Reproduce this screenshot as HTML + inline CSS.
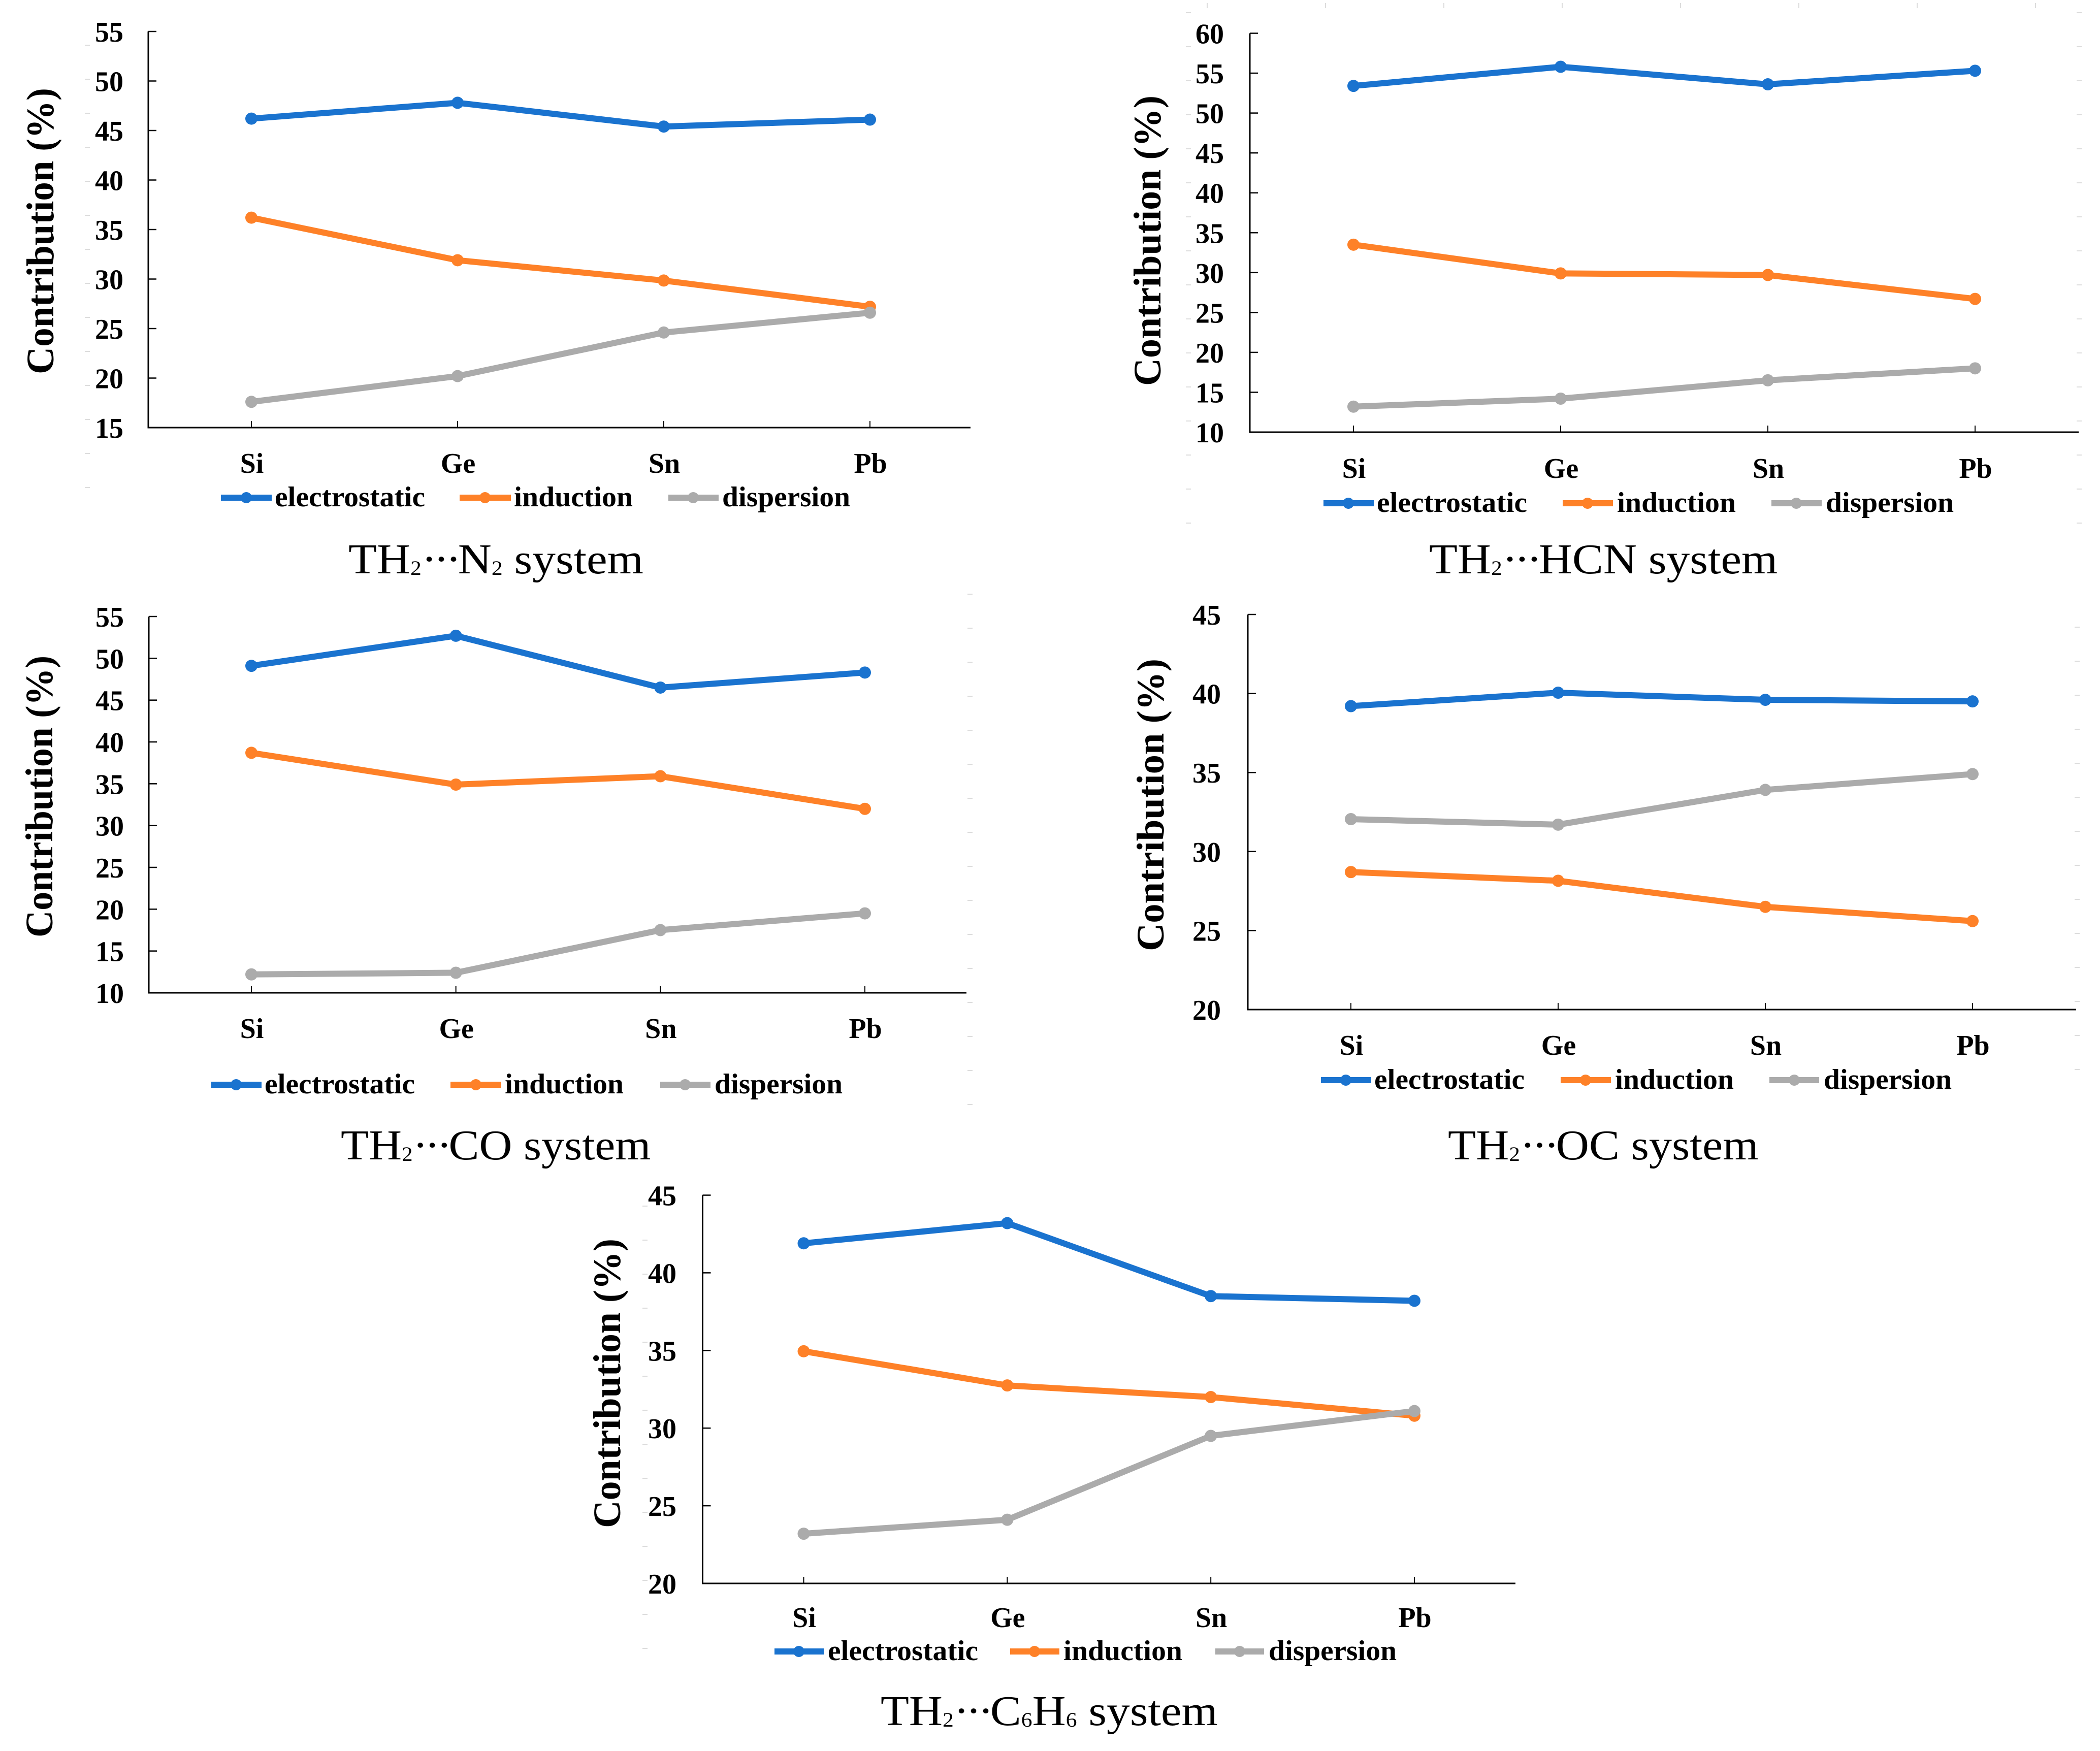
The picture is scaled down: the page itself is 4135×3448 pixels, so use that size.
<!DOCTYPE html>
<html lang="en">
<head>
<meta charset="utf-8">
<title>TH2 complexes energy contribution charts</title>
<style>
html,body{margin:0;padding:0;background:#fff;}
svg{display:block;}
text{font-family:"Liberation Serif",serif;fill:#000;}
.tick,.cat,.leg{font-weight:bold;font-size:56px;}
.ytitle{font-weight:bold;font-size:76px;}
.title{font-size:84px;}
.sub{font-size:40px;}
.dots{letter-spacing:-6px;}
</style>
</head>
<body>
<svg id="figure" width="4135" height="3448" viewBox="0 0 4135 3448" xmlns="http://www.w3.org/2000/svg">
<rect width="4135" height="3448" fill="#fff"/>

<g id="chart-n2">
  <text class="ytitle" transform="translate(105,737) rotate(-90)" textLength="564" lengthAdjust="spacingAndGlyphs">Contribution (%)</text>
  <g>
    <g><line x1="435" x2="535" y1="980" y2="980" stroke="#1a73cf" stroke-width="12"/><circle cx="485" cy="980" r="11" fill="#1a73cf"/><text class="leg" x="541" y="997" textLength="296" lengthAdjust="spacingAndGlyphs">electrostatic</text></g>
    <g><line x1="905" x2="1006" y1="980" y2="980" stroke="#fe8128" stroke-width="12"/><circle cx="955" cy="980" r="11" fill="#fe8128"/><text class="leg" x="1012" y="997" textLength="234" lengthAdjust="spacingAndGlyphs">induction</text></g>
    <g><line x1="1316" x2="1415" y1="980" y2="980" stroke="#ababab" stroke-width="12"/><circle cx="1365" cy="980" r="11" fill="#ababab"/><text class="leg" x="1422" y="997" textLength="252" lengthAdjust="spacingAndGlyphs">dispersion</text></g>
  </g>
  <text class="title" transform="translate(686,1129) scale(1.09,1)">TH<tspan class="sub" dy="3">2</tspan><tspan class="dots" dy="-3">···</tspan><tspan>N</tspan><tspan class="sub" dy="3">2</tspan><tspan dy="-3"> system</tspan></text>
</g>

<g id="chart-hcn">
  <text class="ytitle" transform="translate(2285,760) rotate(-90)" textLength="572" lengthAdjust="spacingAndGlyphs">Contribution (%)</text>
  <g>
    <g><line x1="2606" x2="2705" y1="991" y2="991" stroke="#1a73cf" stroke-width="12"/><circle cx="2655" cy="991" r="11" fill="#1a73cf"/><text class="leg" x="2711" y="1008" textLength="296" lengthAdjust="spacingAndGlyphs">electrostatic</text></g>
    <g><line x1="3077" x2="3176" y1="991" y2="991" stroke="#fe8128" stroke-width="12"/><circle cx="3126" cy="991" r="11" fill="#fe8128"/><text class="leg" x="3184" y="1008" textLength="234" lengthAdjust="spacingAndGlyphs">induction</text></g>
    <g><line x1="3488" x2="3587" y1="991" y2="991" stroke="#ababab" stroke-width="12"/><circle cx="3537" cy="991" r="11" fill="#ababab"/><text class="leg" x="3595" y="1008" textLength="252" lengthAdjust="spacingAndGlyphs">dispersion</text></g>
  </g>
  <text class="title" transform="translate(2814,1129) scale(1.09,1)">TH<tspan class="sub" dy="3">2</tspan><tspan class="dots" dy="-3">···</tspan><tspan>HCN system</tspan></text>
</g>

<g id="chart-co">
  <text class="ytitle" transform="translate(103,1846) rotate(-90)" textLength="555" lengthAdjust="spacingAndGlyphs">Contribution (%)</text>
  <g>
    <g><line x1="416" x2="515" y1="2136" y2="2136" stroke="#1a73cf" stroke-width="12"/><circle cx="465" cy="2136" r="11" fill="#1a73cf"/><text class="leg" x="521" y="2153" textLength="296" lengthAdjust="spacingAndGlyphs">electrostatic</text></g>
    <g><line x1="887" x2="987" y1="2136" y2="2136" stroke="#fe8128" stroke-width="12"/><circle cx="937" cy="2136" r="11" fill="#fe8128"/><text class="leg" x="994" y="2153" textLength="234" lengthAdjust="spacingAndGlyphs">induction</text></g>
    <g><line x1="1300" x2="1399" y1="2136" y2="2136" stroke="#ababab" stroke-width="12"/><circle cx="1349" cy="2136" r="11" fill="#ababab"/><text class="leg" x="1407" y="2153" textLength="252" lengthAdjust="spacingAndGlyphs">dispersion</text></g>
  </g>
  <text class="title" transform="translate(671,2283) scale(1.073,1)">TH<tspan class="sub" dy="3">2</tspan><tspan class="dots" dy="-3">···</tspan><tspan>CO system</tspan></text>
</g>

<g id="chart-oc">
  <text class="ytitle" transform="translate(2291,1873) rotate(-90)" textLength="576" lengthAdjust="spacingAndGlyphs">Contribution (%)</text>
  <g>
    <g><line x1="2601" x2="2700" y1="2127" y2="2127" stroke="#1a73cf" stroke-width="12"/><circle cx="2650" cy="2127" r="11" fill="#1a73cf"/><text class="leg" x="2706" y="2144" textLength="296" lengthAdjust="spacingAndGlyphs">electrostatic</text></g>
    <g><line x1="3073" x2="3172" y1="2127" y2="2127" stroke="#fe8128" stroke-width="12"/><circle cx="3122" cy="2127" r="11" fill="#fe8128"/><text class="leg" x="3180" y="2144" textLength="234" lengthAdjust="spacingAndGlyphs">induction</text></g>
    <g><line x1="3484" x2="3582" y1="2127" y2="2127" stroke="#ababab" stroke-width="12"/><circle cx="3533" cy="2127" r="11" fill="#ababab"/><text class="leg" x="3591" y="2144" textLength="252" lengthAdjust="spacingAndGlyphs">dispersion</text></g>
  </g>
  <text class="title" transform="translate(2851,2283) scale(1.075,1)">TH<tspan class="sub" dy="3">2</tspan><tspan class="dots" dy="-3">···</tspan><tspan>OC system</tspan></text>
</g>

<g id="chart-c6h6">
  <text class="ytitle" transform="translate(1221,3009) rotate(-90)" textLength="570" lengthAdjust="spacingAndGlyphs">Contribution (%)</text>
  <g>
    <g><line x1="1525" x2="1622" y1="3252" y2="3252" stroke="#1a73cf" stroke-width="12"/><circle cx="1573" cy="3252" r="11" fill="#1a73cf"/><text class="leg" x="1630" y="3269" textLength="296" lengthAdjust="spacingAndGlyphs">electrostatic</text></g>
    <g><line x1="1989" x2="2086" y1="3252" y2="3252" stroke="#fe8128" stroke-width="12"/><circle cx="2037" cy="3252" r="11" fill="#fe8128"/><text class="leg" x="2094" y="3269" textLength="234" lengthAdjust="spacingAndGlyphs">induction</text></g>
    <g><line x1="2393" x2="2489" y1="3252" y2="3252" stroke="#ababab" stroke-width="12"/><circle cx="2441" cy="3252" r="11" fill="#ababab"/><text class="leg" x="2498" y="3269" textLength="252" lengthAdjust="spacingAndGlyphs">dispersion</text></g>
  </g>
  <text class="title" transform="translate(1734,3397) scale(1.09,1)">TH<tspan class="sub" dy="3">2</tspan><tspan class="dots" dy="-3">···</tspan><tspan>C</tspan><tspan class="sub" dy="3">6</tspan><tspan dy="-3">H</tspan><tspan class="sub" dy="3">6</tspan><tspan dy="-3"> system</tspan></text>
</g>
</svg>

<script>
// ---- data ----
const categories = ['Si', 'Ge', 'Sn', 'Pb'];

const n2Ticks = [15, 20, 25, 30, 35, 40, 45, 50, 55];
const n2Electrostatic = [46.2, 47.8, 45.4, 46.1];
const n2Induction = [36.2, 31.9, 29.85, 27.2];
const n2Dispersion = [17.6, 20.2, 24.6, 26.6];

const hcnTicks = [10, 15, 20, 25, 30, 35, 40, 45, 50, 55, 60];
const hcnElectrostatic = [53.4, 55.8, 53.6, 55.3];
const hcnInduction = [33.5, 29.9, 29.7, 26.7];
const hcnDispersion = [13.2, 14.2, 16.5, 18.0];

const coTicks = [10, 15, 20, 25, 30, 35, 40, 45, 50, 55];
const coElectrostatic = [49.1, 52.7, 46.5, 48.3];
const coInduction = [38.7, 34.9, 35.9, 32.0];
const coDispersion = [12.2, 12.4, 17.5, 19.5];

const ocTicks = [20, 25, 30, 35, 40, 45];
const ocElectrostatic = [39.2, 40.05, 39.6, 39.5];
const ocInduction = [28.7, 28.15, 26.5, 25.6];
const ocDispersion = [32.05, 31.7, 33.9, 34.9];

const c6h6Ticks = [20, 25, 30, 35, 40, 45];
const c6h6Electrostatic = [41.9, 43.2, 38.5, 38.2];
const c6h6Induction = [34.95, 32.75, 32.0, 30.8];
const c6h6Dispersion = [23.2, 24.1, 29.5, 31.1];

// ---- layout ----
const NS = 'http://www.w3.org/2000/svg';
const COLORS = {electrostatic: '#1a73cf', induction: '#fe8128', dispersion: '#ababab'};

function make(tag, attrs, parent) {
  const el = document.createElementNS(NS, tag);
  for (const k in attrs) el.setAttribute(k, attrs[k]);
  parent.appendChild(el);
  return el;
}

function drawChart(id, box, ticks, electrostatic, induction, dispersion) {
  const root = document.getElementById(id);
  const yMin = ticks[0], yMax = ticks[ticks.length - 1];
  const yScale = v => box.bottom - (v - yMin) / (yMax - yMin) * (box.bottom - box.top);
  const xScale = i => box.x0 + i * (box.x3 - box.x0) / (categories.length - 1);

  const axes = make('g', {}, root);
  
  

  const yAxis = make('line', {x1: box.left, x2: box.left, y1: box.top, y2: box.bottom + 1.5, stroke: '#000', 'stroke-width': 3}, axes);
  
  

  const xAxis = make('line', {x1: box.left - 1.5, x2: box.right, y1: box.bottom, y2: box.bottom, stroke: '#000', 'stroke-width': 3}, axes);
  
  

  ticks.forEach(t => {
    const y = yScale(t);
    const tickMark = make('line', {x1: box.left, x2: box.left + 16, y1: y, y2: y, stroke: '#000', 'stroke-width': 2.5}, axes);
    
    
    const label = make('text', {class: 'tick', x: box.tickRight, y: y + 20, 'text-anchor': 'end'}, axes);
    
    
    label.textContent = t;
  });

  categories.forEach((c, i) => {
    const x = xScale(i);
    const tickMark = make('line', {x1: x, x2: x, y1: box.bottom - 13, y2: box.bottom, stroke: '#000', 'stroke-width': 2}, axes);
    
    
    const label = make('text', {class: 'cat', x: x + 1, y: box.bottom + box.catGap, 'text-anchor': 'middle'}, axes);
    
    
    label.textContent = c;
  });

  [['electrostatic', electrostatic], ['induction', induction], ['dispersion', dispersion]].forEach(([name, values]) => {
    const series = make('g', {}, root);
    
    
    const pts = values.map((v, i) => xScale(i) + ',' + yScale(v)).join(' ');
    const line = make('polyline', {points: pts, fill: 'none', stroke: COLORS[name], 'stroke-width': 12, 'stroke-linejoin': 'round'}, series);
    
    
    values.forEach((v, i) => {
      const dot = make('circle', {cx: xScale(i), cy: yScale(v), r: 12, fill: COLORS[name]}, series);
      
      
    });
  });
}

function drawDashesV(x, yStart, yEnd) {
  const root = document.getElementById('figure');
  for (let y = yStart; y <= yEnd; y += 67) {
    const dash = make('line', {x1: x - 5, x2: x + 5, y1: y, y2: y, stroke: '#dcdcdc', 'stroke-width': 2}, root);
    
    
  }
}
function drawDashesH(y, xStart, xEnd) {
  const root = document.getElementById('figure');
  for (let x = xStart; x <= xEnd; x += 233) {
    const dash = make('line', {x1: x, x2: x, y1: y - 5, y2: y + 5, stroke: '#dcdcdc', 'stroke-width': 2}, root);
    
    
  }
}

drawChart('chart-n2', {left: 292, right: 1911, top: 62, bottom: 842, x0: 495, x3: 1713, tickRight: 243, catGap: 89}, n2Ticks, n2Electrostatic, n2Induction, n2Dispersion);
drawChart('chart-hcn', {left: 2461, right: 4093, top: 65.5, bottom: 851, x0: 2665, x3: 3889, tickRight: 2410, catGap: 90}, hcnTicks, hcnElectrostatic, hcnInduction, hcnDispersion);
drawChart('chart-co', {left: 293, right: 1903, top: 1214, bottom: 1955, x0: 495, x3: 1703, tickRight: 244, catGap: 89}, coTicks, coElectrostatic, coInduction, coDispersion);
drawChart('chart-oc', {left: 2457, right: 4088, top: 1210, bottom: 1988, x0: 2660, x3: 3884, tickRight: 2404, catGap: 89}, ocTicks, ocElectrostatic, ocInduction, ocDispersion);
drawChart('chart-c6h6', {left: 1383.5, right: 2984, top: 2353.5, bottom: 3118, x0: 1582.5, x3: 2785, tickRight: 1332, catGap: 86}, c6h6Ticks, c6h6Electrostatic, c6h6Induction, c6h6Dispersion);

drawDashesV(172, 89, 960);
drawDashesV(2340, 25, 1035);
drawDashesV(4094, 25, 1035);
drawDashesH(11, 2377, 4010);
drawDashesV(1910, 1170, 2180);
drawDashesV(4090, 1235, 2170);
drawDashesV(1270, 2375, 3295);
</script>
</body>
</html>
